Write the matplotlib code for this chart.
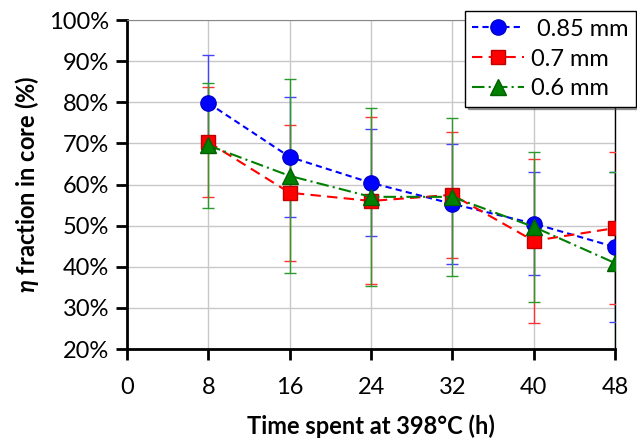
import matplotlib
matplotlib.use('Agg')
import matplotlib.pyplot as plt
from matplotlib.ticker import FuncFormatter

plt.rcParams['font.family'] = ['Lato', 'DejaVu Sans']
plt.rcParams['mathtext.fontset'] = 'custom'
plt.rcParams['mathtext.it'] = 'Lato:italic:bold'
plt.rcParams['mathtext.rm'] = 'Lato:bold'

# hours at 398 C
hours = [8, 16, 24, 32, 40, 48]

# eta fraction in core (%) and error bars
d085 = [79.8, 66.7, 60.4, 55.3, 50.5, 44.8]
e085 = [11.8, 14.5, 13.0, 14.6, 12.6, 18.2]
d07 = [70.3, 58.0, 56.0, 57.5, 46.3, 49.4]
e07 = [13.3, 16.5, 20.3, 15.3, 20.0, 18.5]
d06 = [69.5, 62.1, 57.0, 57.0, 49.7, 40.9]
e06 = [15.3, 23.5, 21.6, 19.2, 18.3, 22.1]

labels = [' 0.85 mm', '0.7 mm', '0.6 mm']

fig = plt.figure(figsize=(6.37, 4.40), dpi=100)
ax = fig.add_axes([0.1994, 0.2068, 0.7661, 0.7477])

h1 = ax.errorbar(hours, d085, yerr=e085, color='#0000ff', ls=(0, (3, 2)), lw=1.5,
                 marker='o', ms=11, mec='#0000cc', mfc='#0000ff',
                 ecolor='#4444ff', elinewidth=1, capsize=4.5, zorder=3)
h2 = ax.errorbar(hours, d07, yerr=e07, color='#ff0000', ls=(0, (5, 3)), lw=1.5,
                 marker='s', ms=10, mec='#c00000', mfc='#ff0000',
                 ecolor='#ff3333', elinewidth=1, capsize=4.5, zorder=3)
h3 = ax.errorbar(hours, d06, yerr=e06, color='#008000', ls=(0, (6, 2, 1, 2)), lw=1.5,
                 marker='^', ms=11, mec='#006000', mfc='#008000',
                 ecolor='#2a9a2a', elinewidth=1, capsize=4.5, zorder=3)

ax.set_xlim(0, 48)
ax.set_ylim(20, 100)
ax.set_xticks(range(0, 49, 8))
ax.set_yticks(range(20, 101, 10))
ax.yaxis.set_major_formatter(FuncFormatter(lambda v, p: f'{v:.0f}%'))
ax.grid(True, color='#c8c8c8', lw=1)
ax.set_axisbelow(True)

for s in ['left', 'bottom']:
    ax.spines[s].set_linewidth(2)
    ax.spines[s].set_color('black')
ax.spines['top'].set_color('#888888')
ax.spines['right'].set_color('black')
ax.spines['right'].set_linewidth(1)
ax.tick_params(direction='out', length=8, width=2, labelsize=17, pad=5)
ax.tick_params(axis='x', pad=12)

ax.set_xlabel('Time spent at 398°C (h)', fontsize=17, fontweight='bold', labelpad=12)
ax.set_ylabel(r'$\it{\eta}$ fraction in core (%)', fontsize=17, fontweight='bold', labelpad=6)

leg = ax.legend([h1[0], h2[0], h3[0]], labels, loc='upper right',
                bbox_to_anchor=(1.042, 1.026), fontsize=17,
                frameon=True, fancybox=False, shadow=True, handlelength=2.2,
                borderpad=0.3, labelspacing=0.38, handletextpad=0.3,
                borderaxespad=0)
leg.get_frame().set_edgecolor('black')
leg.get_frame().set_linewidth(1)
leg.set_zorder(5)

fig.savefig('out.png', dpi=100)
